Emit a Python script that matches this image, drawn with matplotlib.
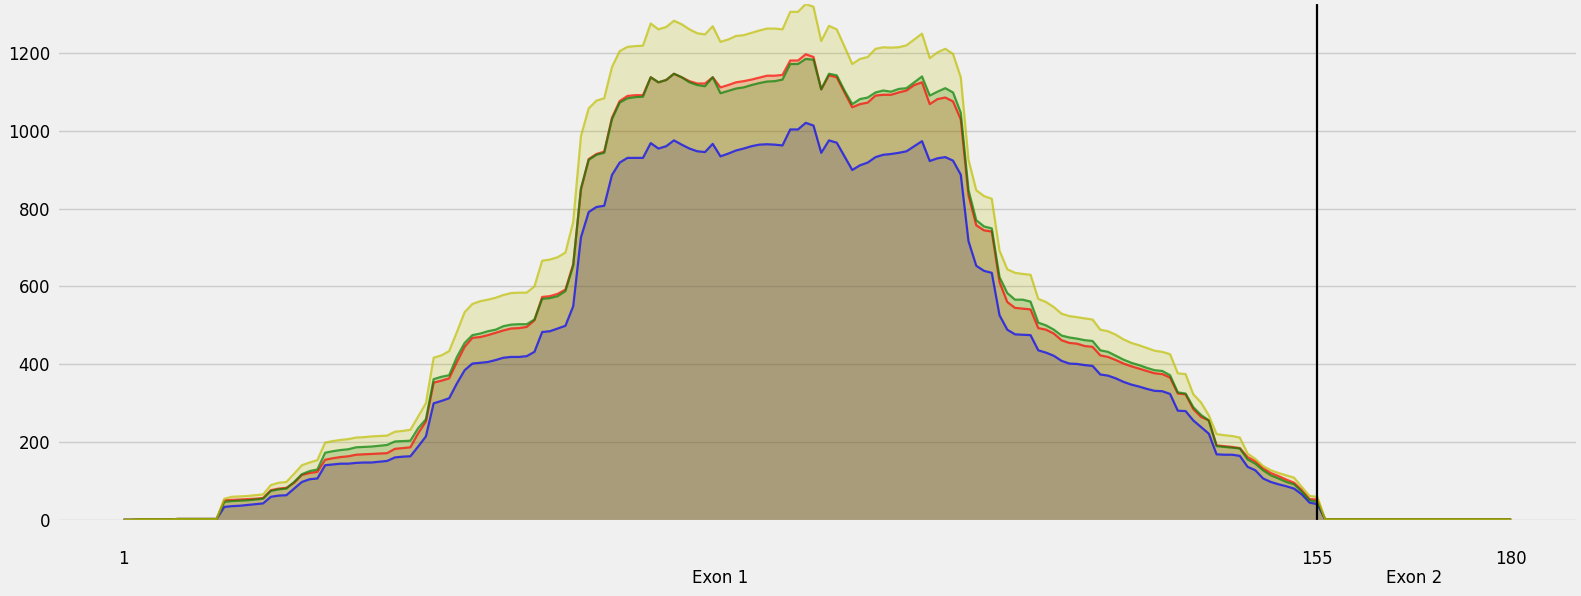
import matplotlib
matplotlib.use("Agg")
import matplotlib.pyplot as plt
import numpy as np

plt.style.use("fivethirtyeight")

# coverage per position
head = [1, 1, 2, 2, 2, 2, 2, 3, 3, 3, 3, 3, 3]
tail = [2, 2, 2, 2, 2, 2, 2, 2, 2, 2, 2, 2, 2, 2, 2, 2, 2, 2, 2, 2, 2, 2, 2, 2, 2]

yellow = head + [
    55, 60, 61, 62, 64, 66, 90, 96, 98, 119, 141, 148, 154, 199, 203, 206,
    208, 212, 213, 215, 216, 217, 227, 229, 232, 266, 300,
    417, 423, 434, 483, 534, 555, 562, 566, 571, 578, 583, 584, 584, 600, 666, 669, 675, 687,
    765, 986, 1057, 1077, 1083, 1163, 1204, 1215, 1217, 1218,
    1275, 1260, 1266, 1282, 1273, 1260, 1250, 1247, 1268, 1228, 1234, 1243, 1245, 1251, 1257, 1262, 1262, 1260,
    1305, 1305, 1325, 1318, 1230, 1269, 1260, 1216, 1171, 1184, 1189, 1210, 1214, 1213, 1214, 1219, 1234, 1249,
    1186, 1201, 1210, 1197, 1137,
    925, 847, 832, 825, 692, 644, 635, 632, 630, 568, 560, 547, 530, 524, 521, 518, 515, 489, 485, 476, 464,
    455, 449, 442, 435, 432, 426,
    377, 375, 323, 302, 269, 221, 218, 216, 212, 171, 157, 139, 128, 121, 115, 109, 85, 62, 60,
] + tail

green = head + [
    47, 49, 50, 51, 53, 55, 75, 79, 81, 98, 118, 126, 130, 173, 177, 180,
    182, 187, 188, 189, 191, 193, 202, 203, 204, 236, 259,
    362, 368, 372, 419, 455, 475, 479, 485, 489, 498, 502, 503, 503, 515, 568, 570, 575, 588,
    653, 852, 925, 938, 943, 1029, 1072, 1083, 1086, 1087,
    1137, 1124, 1130, 1146, 1137, 1124, 1117, 1114, 1137, 1096, 1102, 1108, 1111, 1117, 1122, 1126, 1127, 1131,
    1171, 1171, 1184, 1182, 1106, 1146, 1142, 1103, 1068, 1081, 1085, 1098, 1103, 1100, 1107, 1109, 1124, 1139,
    1090, 1100, 1109, 1098, 1046,
    847, 770, 754, 749, 624, 583, 566, 566, 561, 507, 500, 489, 474, 469, 466, 462, 460, 436, 432, 422, 412,
    404, 398, 391, 385, 383, 372,
    328, 325, 290, 270, 256, 190, 188, 186, 184, 156, 145, 128, 115, 107, 98, 92, 73, 51, 47,
] + tail

red = head + [
    51, 52, 53, 54, 55, 57, 77, 81, 83, 96, 116, 121, 124, 155, 159, 162,
    164, 168, 169, 170, 171, 172, 183, 185, 187, 223, 253,
    353, 358, 364, 406, 445, 468, 470, 475, 481, 487, 492, 493, 496, 513, 573, 575, 581, 592,
    657, 848, 927, 940, 946, 1033, 1076, 1089, 1091, 1091,
    1137, 1124, 1130, 1146, 1137, 1127, 1121, 1121, 1137, 1111, 1117, 1124, 1127, 1131, 1136, 1141, 1141, 1143,
    1180, 1180, 1196, 1189, 1106, 1142, 1137, 1098, 1060, 1068, 1072, 1090, 1092, 1092, 1098, 1103, 1117, 1124,
    1068, 1081, 1085, 1075, 1029,
    834, 757, 744, 741, 611, 560, 545, 543, 541, 493, 489, 479, 462, 455, 453, 447, 445, 423, 419, 411, 402,
    395, 389, 383, 377, 375, 366,
    325, 323, 285, 265, 256, 192, 190, 188, 185, 162, 151, 133, 121, 113, 104, 96, 77, 54, 53,
] + tail

blue = head + [
    34, 36, 37, 39, 41, 43, 60, 63, 64, 81, 98, 105, 107, 141, 143, 145,
    145, 147, 148, 148, 150, 152, 161, 163, 164, 189, 215,
    300, 306, 313, 351, 385, 402, 404, 406, 411, 417, 419, 419, 421, 432, 483, 485, 492, 499,
    549, 726, 791, 804, 807, 886, 918, 930, 930, 930,
    968, 954, 960, 975, 964, 954, 947, 945, 966, 934, 941, 949, 954, 960, 964, 965, 964, 962,
    1003, 1003, 1020, 1013, 943, 975, 969, 934, 899, 911, 918, 932, 938, 940, 943, 947, 960, 973,
    922, 929, 932, 923, 887,
    716, 653, 640, 635, 526, 489, 477, 476, 475, 436, 430, 422, 409, 402, 401, 398, 396, 374, 371, 364, 355,
    348, 343, 337, 332, 331, 324,
    281, 280, 256, 239, 222, 169, 168, 168, 165, 137, 128, 107, 98, 92, 87, 81, 66, 45, 41,
] + tail

positions = np.arange(1, len(yellow) + 1)
exon_break = 155
xticks = [1, 155, 180]
exon_labels = ["Exon 1", "Exon 2"]
exon_centers = [(1 + 155) / 2, (155 + 180) / 2]

fig = plt.figure(figsize=(15.81, 5.96), dpi=100)
ax = fig.add_axes([0.036, 0.124, 0.962, 0.8725])

# same stacking for fills and lines: blue at the bottom, yellow on top
series = [(blue, "b"), (red, "r"), (green, "g"), (yellow, "y")]
for y, c in series:
    ax.fill_between(positions, y, color=c, alpha=0.2, linewidth=0)

for y, c in series:
    ax.plot(positions, y, color=c, alpha=0.7, linewidth=1.6)

ax.axvline(exon_break, ymin=0.003, color="black", linewidth=1.6)

ax.set_xlim(-7.6, 188.6)
ax.set_ylim(-5, 1330)
ax.set_yticks(range(0, 1201, 200))
ax.set_xticks(xticks)
ax.set_xticks(exon_centers, exon_labels, minor=True)
ax.grid(False, axis="x")
ax.grid(True, axis="y", color="#cbcbcb", linewidth=1)

ax.tick_params(axis="x", which="major", labelsize=12, pad=20, length=0)
ax.tick_params(axis="x", which="minor", labelsize=12, pad=34, length=0)
ax.tick_params(axis="y", labelsize=12, pad=5, length=0)

fig.savefig("out.png", dpi=100, facecolor=fig.get_facecolor())
